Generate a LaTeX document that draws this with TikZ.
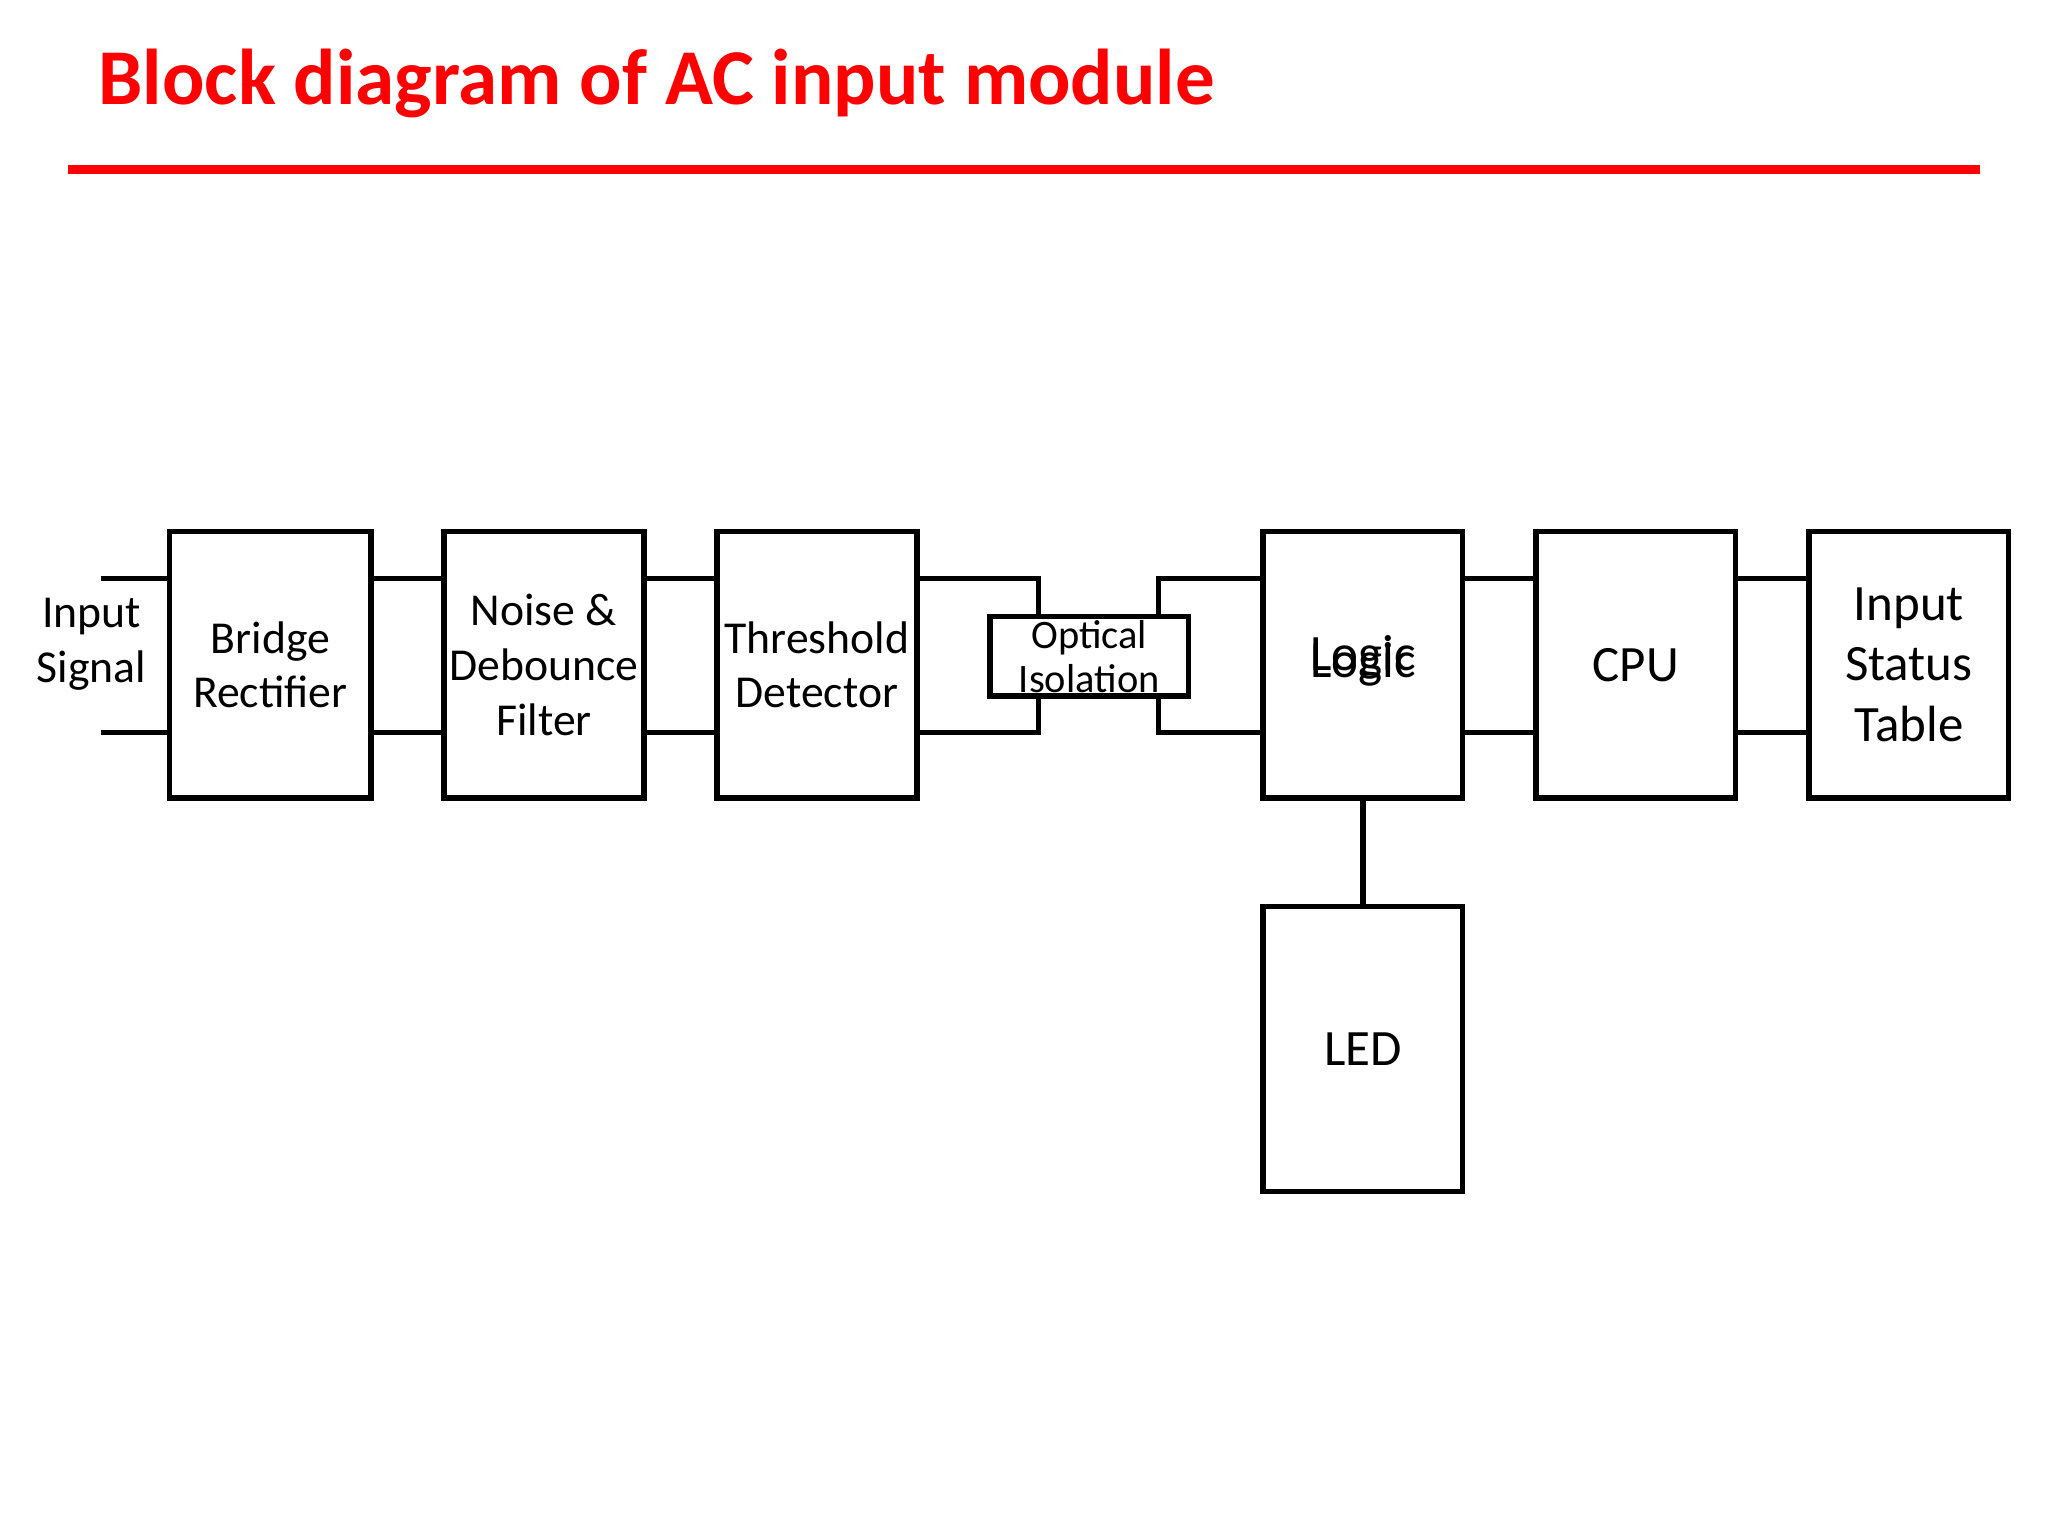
\documentclass[tikz,border=0pt]{standalone}
\usepackage{fontspec}
\setmainfont{Carlito}
\begin{document}
\begin{tikzpicture}[x=0.0130612cm,y=-0.0130612cm,
  blk/.style={draw,line width=1.5pt,font=\fontsize{13}{15.6}\selectfont,align=center,inner sep=0pt},
  big/.style={font=\fontsize{14.5}{17.2}\selectfont},
  w/.style={line width=1.5pt}]
\useasboundingbox (0,0) rectangle (1568,1176);
\node[anchor=west,text=red,font=\bfseries\fontsize{22.5}{27}\selectfont] (title) at (66,64) {Block diagram of AC input module};
\draw[red,line width=2.6pt] (52,130) -- (1516,130);
\newcommand{\bx}[7]{\node[blk,#7,minimum width=#4*0.0130612cm-1.5pt,minimum height=#5*0.0130612cm-1.5pt] (#1) at (#2,#3) {#6};}
\bx{br}{207}{509}{158}{208}{Bridge\\Rectifier}{}
\bx{nf}{416.5}{509}{157}{208}{Noise \&\\Debounce\\Filter}{}
\bx{td}{625.5}{509}{157}{208}{Threshold\\Detector}{}
\node[blk,font=\fontsize{11.5}{12.6}\selectfont,minimum width=156*0.0130612cm-1.5pt,minimum height=65*0.0130612cm-1.5pt] (oi) at (834,502.5) {Optical\\Isolation};
\bx{lg}{1043.5}{509}{157}{208}{Logic}{big}
\node[big] at (1043.5,503) {Logic};
\bx{cpu}{1252.5}{509}{157}{208}{CPU}{big}
\bx{ist}{1461.5}{509}{157}{208}{Input\\Status\\Table}{big}
\bx{led}{1043.5}{803}{157}{222}{LED}{big}
\node[font=\fontsize{13}{15.6}\selectfont,align=center] (in) at (70,493) {Input\\Signal};
\coordinate (a1) at (77,443); \coordinate (a2) at (77,561);
\draw[w] (a1) -- (br.west|-a1); \draw[w] (a2) -- (br.west|-a2);
\foreach \p/\q in {br/nf,nf/td,lg/cpu,cpu/ist}{
  \draw[w] (\p.east|-a1) -- (\q.west|-a1);
  \draw[w] (\p.east|-a2) -- (\q.west|-a2);}
\draw[w] (td.east|-a1) -- (795,443) -- (795,470);
\draw[w] (td.east|-a2) -- (795,561) -- (795,535);
\draw[w] (lg.west|-a1) -- (887,443) -- (887,470);
\draw[w] (lg.west|-a2) -- (887,561) -- (887,535);
\draw[w] (lg.south) -- (led.north);
\end{tikzpicture}
\end{document}
